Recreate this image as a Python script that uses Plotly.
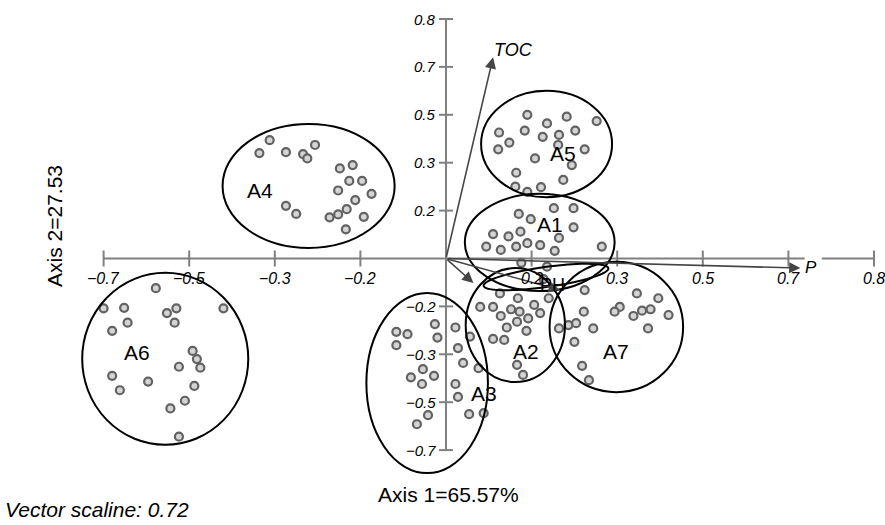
import numpy as np
import plotly.graph_objects as go

# ---------------- data (ordination scores, in tick-index units) ----------------
x_tick_pos = [-4, -3, -2, -1, 1, 2, 3, 4, 5]
x_tick_text = ["\u22120.7", "\u22120.5", "\u22120.3", "\u22120.2", "0.2", "0.3", "0.5", "0.7", "0.8"]
y_tick_pos = [5, 4, 3, 2, 1, -1, -2, -3, -4]
y_tick_text = ["0.8", "0.7", "0.5", "0.3", "0.2", "\u22120.2", "\u22120.3", "\u22120.5", "\u22120.7"]

a5_x = [0.95, 1.41, 1.76, 1.18, 0.62, 0.92, 1.51, 1.13, 1.32, 0.74, 0.61, 1.31, 1.62, 1.04, 1.47, 0.82, 1.37, 0.81, 1.11, 0.95]
a5_y = [3.00, 2.96, 2.87, 2.82, 2.63, 2.67, 2.67, 2.54, 2.58, 2.42, 2.28, 2.37, 2.28, 2.09, 1.95, 1.79, 1.64, 1.50, 1.49, 1.39]

a1_x = [0.85, 1.26, 1.49, 0.99, 1.49, 0.55, 0.73, 0.87, 1.32, 0.47, 0.64, 0.82, 0.95, 1.10, 1.27, 1.82]
a1_y = [0.93, 1.05, 1.05, 0.82, 0.65, 0.51, 0.46, 0.56, 0.43, 0.25, 0.18, 0.25, 0.32, 0.28, 0.16, 0.25]

a2_x = [0.63, 0.40, 0.55, 0.84, 1.03, 0.76, 0.86, 0.64, 0.96, 1.10, 1.20, 0.71, 0.83, 0.94, 0.55, 0.68, 0.83, 0.90, 0.28, 1.14, 0.88, 1.18]
a2_y = [-0.73, -1.01, -1.01, -0.83, -0.97, -1.06, -1.11, -1.20, -1.25, -1.14, -0.83, -1.44, -1.32, -1.51, -1.68, -1.70, -2.22, -2.43, -1.63, -0.43, -0.09, -0.17]

a7_x = [1.62, 2.23, 2.48, 2.03, 1.97, 1.61, 2.29, 2.39, 2.19, 2.60, 1.32, 1.43, 1.52, 1.72, 2.36, 1.50, 1.59, 1.67]
a7_y = [-0.66, -0.73, -0.83, -1.01, -1.11, -1.11, -1.09, -1.06, -1.20, -1.18, -1.46, -1.39, -1.35, -1.46, -1.46, -1.74, -2.24, -2.54]

a3_x = [-0.58, -0.45, -0.58, -0.13, -0.10, 0.11, 0.14, -0.27, -0.41, -0.28, -0.14, 0.20, 0.38, 0.11, 0.14, 0.27, 0.44, -0.21, -0.34]
a3_y = [-1.53, -1.58, -1.81, -1.37, -1.65, -1.44, -1.87, -2.31, -2.48, -2.62, -2.45, -2.18, -2.29, -2.62, -2.89, -3.25, -3.23, -3.27, -3.46]

a6_x = [-3.39, -4.00, -3.76, -3.15, -2.60, -3.26, -3.72, -3.17, -3.90, -2.96, -2.91, -2.87, -3.12, -3.90, -3.48, -2.94, -3.81, -3.05, -3.22, -3.12]
a6_y = [-0.62, -1.04, -1.03, -1.04, -1.04, -1.14, -1.34, -1.34, -1.51, -1.93, -2.10, -2.28, -2.26, -2.45, -2.57, -2.66, -2.75, -2.97, -3.13, -3.72]

a4_x = [-2.06, -2.18, -1.87, -1.67, -1.62, -1.53, -1.24, -1.09, -1.13, -0.98, -1.26, -0.87, -1.06, -1.16, -1.26, -1.36, -0.96, -1.17, -1.87, -1.75]
a4_y = [2.47, 2.20, 2.22, 2.18, 2.09, 2.37, 1.88, 1.95, 1.62, 1.62, 1.42, 1.35, 1.22, 1.03, 0.92, 0.86, 0.87, 0.61, 1.10, 0.93]

# cluster ellipses (bounding boxes) and labels
group_names = ["A5", "A1", "A4", "A6", "A3", "A2", "A7"]
ell_x0 = [0.41, 0.22, -2.61, -4.25, -0.93, 0.23, 1.21]
ell_x1 = [1.94, 1.97, -0.60, -2.31, 0.49, 1.39, 2.77]
ell_y0 = [1.28, -0.68, 0.22, -3.89, -4.48, -2.58, -2.79]
ell_y1 = [3.50, 1.35, 2.81, -0.30, -0.72, -0.20, -0.07]
label_x = [1.37, 1.21, -2.17, -3.61, 0.44, 0.93, 1.99]
label_y = [2.20, 0.70, 1.43, -1.97, -2.81, -1.95, -1.95]

# environmental vectors
vec_names = ["TOC", "P", "PH", ""]
vec_x = [0.55, 4.14, 1.33, 0.32]
vec_y = [4.20, -0.20, -0.66, -0.51]
vec_label_x = [0.79, 4.26, 1.24, None]
vec_label_y = [4.35, -0.18, -0.56, None]

# ---------------- layout constants ----------------
W, H = 885, 525
PX_X, PX_Y = 85.6, 47.9          # pixels per unit
X0, Y0 = 446.0, 258.5            # origin pixel
xr = [-X0 / PX_X, (W - X0) / PX_X]
yr = [(Y0 - H) / PX_Y, Y0 / PX_Y]

FONT = "Liberation Sans, Arial, Helvetica, sans-serif"
AXC = "#808080"

fig = go.Figure()

marker = dict(symbol="circle", size=8, color="#d4d4d4", line=dict(color="#626262", width=2.2))
for gx, gy in [(a5_x, a5_y), (a1_x, a1_y), (a2_x, a2_y), (a7_x, a7_y), (a3_x, a3_y), (a6_x, a6_y), (a4_x, a4_y)]:
    fig.add_trace(go.Scatter(x=gx, y=gy, mode="markers", marker=marker, showlegend=False,
                             hoverinfo="skip", cliponaxis=False))

shapes = []
# axes lines
xmin_t, xmax_t = min(x_tick_pos), max(x_tick_pos)
ymin_t, ymax_t = min(y_tick_pos), max(y_tick_pos)
gap0, gap1 = 4.19, 4.39   # gap for "P" label
shapes.append(dict(type="line", x0=xmin_t, x1=gap0, y0=0, y1=0, line=dict(color=AXC, width=2), layer="below"))
shapes.append(dict(type="line", x0=gap1, x1=xmax_t, y0=0, y1=0, line=dict(color=AXC, width=2), layer="below"))
shapes.append(dict(type="line", x0=0, x1=0, y0=ymin_t, y1=ymax_t, line=dict(color=AXC, width=2), layer="below"))
tx = 8 / PX_Y
for t in x_tick_pos:
    shapes.append(dict(type="line", x0=t, x1=t, y0=-tx, y1=tx, line=dict(color=AXC, width=2), layer="below"))
ty = 7 / PX_X
for t in y_tick_pos:
    shapes.append(dict(type="line", x0=-ty, x1=ty, y0=t, y1=t, line=dict(color=AXC, width=2), layer="below"))

# cluster ellipses
for i in range(len(group_names)):
    shapes.append(dict(type="circle", xref="x", yref="y", x0=ell_x0[i], x1=ell_x1[i],
                       y0=ell_y0[i], y1=ell_y1[i], line=dict(color="black", width=2)))

# small tilted ellipse around pH vector
cx, cy, a, b, ang = 546, 277, 63, 10, np.deg2rad(-8)
t = np.linspace(0, 2 * np.pi, 80)
px = cx + a * np.cos(t) * np.cos(ang) - b * np.sin(t) * np.sin(ang)
py = cy + a * np.cos(t) * np.sin(ang) + b * np.sin(t) * np.cos(ang)
ux = (px - X0) / PX_X
uy = (Y0 - py) / PX_Y
path = "M " + " L ".join(f"{x:.4f},{y:.4f}" for x, y in zip(ux, uy)) + " Z"
shapes.append(dict(type="path", path=path, line=dict(color="black", width=2)))

annotations = []
# vectors
for i in range(len(vec_names)):
    annotations.append(dict(x=vec_x[i], y=vec_y[i], ax=0, ay=0, xref="x", yref="y", axref="x", ayref="y",
                            showarrow=True, arrowhead=2, arrowsize=1.4, arrowwidth=1.6,
                            arrowcolor="#454545", text=""))
vec_fmt = {"TOC": ("<i>TOC</i>", 18), "P": ("<i>P</i>", 17), "PH": ("PH", 18)}
for i, n in enumerate(vec_names):
    if n:
        txt, sz = vec_fmt[n]
        annotations.append(dict(x=vec_label_x[i], y=vec_label_y[i], text=txt, showarrow=False,
                                font=dict(family=FONT, size=sz, color="black"),
                                xanchor="center", yanchor="middle"))

# tick labels
for t, lab in zip(x_tick_pos, x_tick_text):
    annotations.append(dict(x=t, y=-20 / PX_Y, text=f"<i>{lab}</i>", showarrow=False,
                            font=dict(family=FONT, size=16, color="black"),
                            xanchor="center", yanchor="middle"))
for t, lab in zip(y_tick_pos, y_tick_text):
    annotations.append(dict(x=-8 / PX_X, y=t, text=f"<i>{lab}</i>", showarrow=False,
                            font=dict(family=FONT, size=15, color="black"),
                            xanchor="right", yanchor="middle"))

# group labels
for i, n in enumerate(group_names):
    annotations.append(dict(x=label_x[i], y=label_y[i], text=n, showarrow=False,
                            font=dict(family=FONT, size=21, color="black"),
                            xanchor="center", yanchor="middle"))

# titles
annotations.append(dict(x=448 / W, y=1 - 494 / H, xref="paper", yref="paper", text="Axis 1=65.57%",
                        showarrow=False, font=dict(family=FONT, size=21, color="black"),
                        xanchor="center", yanchor="middle"))
annotations.append(dict(x=54 / W, y=1 - 226 / H, xref="paper", yref="paper", text="Axis 2=27.53",
                        showarrow=False, textangle=-90, font=dict(family=FONT, size=21, color="black"),
                        xanchor="center", yanchor="middle"))
annotations.append(dict(x=3 / W, y=1 - 509 / H, xref="paper", yref="paper", text="<i>Vector scaline: 0.72</i>",
                        showarrow=False, font=dict(family=FONT, size=21, color="black"),
                        xanchor="left", yanchor="middle"))

fig.update_layout(
    width=W, height=H,
    margin=dict(l=0, r=0, t=0, b=0, pad=0),
    paper_bgcolor="white", plot_bgcolor="white",
    xaxis=dict(range=xr, visible=False, fixedrange=True),
    yaxis=dict(range=yr, visible=False, fixedrange=True),
    shapes=shapes,
    annotations=annotations,
)

fig.write_html("out.html", config={"displayModeBar": False},
               post_script="document.body.style.margin='0';document.body.style.overflow='hidden';")
